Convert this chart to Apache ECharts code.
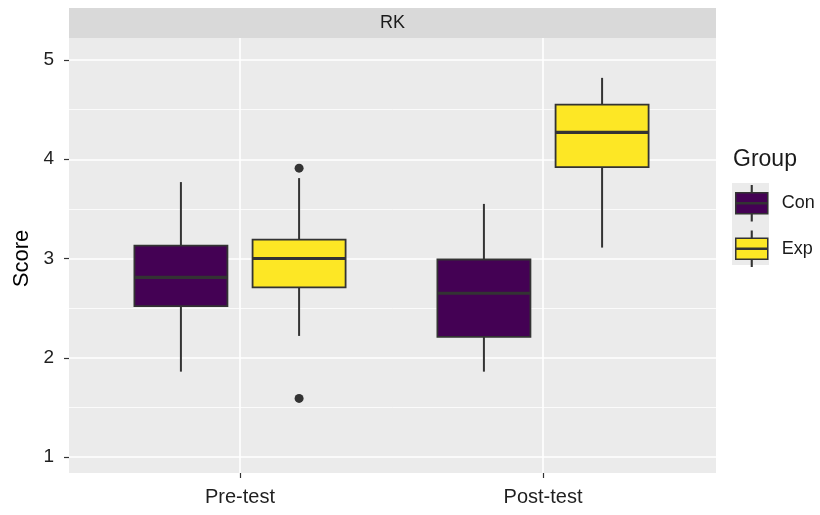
<!DOCTYPE html>
<html>
<head>
<meta charset="utf-8">
<script src="https://cdn.jsdelivr.net/npm/echarts@6/dist/echarts.min.js"></script>
<style>
html,body{margin:0;padding:0;background:#fff;}
#chart{width:820px;height:515px;}
</style>
</head>
<body>
<div id="chart"></div>
<script>
// ---- data ----
var categories = ['Pre-test', 'Post-test'];
var groups = ['Con', 'Exp'];
var groupColors = ['#440154', '#FDE725'];
// [min, Q1, median, Q3, max] per category
var conBoxes = [
  [1.86, 2.52, 2.81, 3.13, 3.77],
  [1.86, 2.21, 2.65, 2.99, 3.55]
];
var expBoxes = [
  [2.22, 2.71, 3.00, 3.19, 3.81],
  [3.11, 3.92, 4.27, 4.55, 4.82]
];
// [category, value]
var conOutliers = [];
var expOutliers = [
  ['Pre-test', 3.91],
  ['Pre-test', 1.59]
];
var yTicks = [1, 2, 3, 4, 5];
var facetLabel = 'RK';
var yTitle = 'Score';
var legendTitle = 'Group';

// ---- layout ----
var FONT = 'Liberation Sans, Arial, sans-serif';
var W = 820, H = 515;
var panel = {left: 69, right: 716, top: 38, bottom: 473};
var yTop = 60, yBottom = 457;       // pixel rows of y = 5 and y = 1
var catCenters = [240, 543];        // pixel centres of the categories
var band = catCenters[1] - catCenters[0];
var BOX_FRAC = 0.307;               // box width, fraction of a category band
var DODGE_FRAC = 0.195;             // group offset, fraction of a category band
var INK = '#333333';

var legendIcon = 'path://M0,7L32,7L32,16.9L0,16.9Z M0,18.1L32,18.1L32,28L0,28Z M15.7,0L16.3,0L16.3,7L15.7,7Z M15.7,28L16.3,28L16.3,35L15.7,35Z';

function boxRows(rows) {
  return rows.map(function (r, i) { return [i].concat(r); });
}
function outlierRows(rows) {
  return rows.map(function (r) { return [categories.indexOf(r[0]), r[1]]; });
}

function boxRenderer(offsetFrac, color) {
  return function (params, api) {
    var cat = api.value(0);
    var bw = api.size([1, 0])[0];
    var cx = api.coord([cat, 0])[0] + offsetFrac * bw;
    var half = BOX_FRAC * bw / 2;
    var yMin = api.coord([cat, api.value(1)])[1];
    var yQ1 = api.coord([cat, api.value(2)])[1];
    var yMed = api.coord([cat, api.value(3)])[1];
    var yQ3 = api.coord([cat, api.value(4)])[1];
    var yMax = api.coord([cat, api.value(5)])[1];
    return {
      type: 'group',
      children: [
        {type: 'line', shape: {x1: cx, y1: yMax, x2: cx, y2: yQ3}, style: {stroke: INK, lineWidth: 2}},
        {type: 'line', shape: {x1: cx, y1: yQ1, x2: cx, y2: yMin}, style: {stroke: INK, lineWidth: 2}},
        {type: 'rect', shape: {x: cx - half, y: yQ3, width: 2 * half, height: yQ1 - yQ3},
         style: {fill: color, stroke: INK, lineWidth: 1.8}},
        {type: 'line', shape: {x1: cx - half, y1: yMed, x2: cx + half, y2: yMed}, style: {stroke: INK, lineWidth: 3.2}}
      ]
    };
  };
}
function outlierRenderer(offsetFrac) {
  return function (params, api) {
    var cat = api.value(0);
    var bw = api.size([1, 0])[0];
    var p = api.coord([cat, api.value(1)]);
    return {type: 'circle', shape: {cx: p[0] + offsetFrac * bw, cy: p[1], r: 4.5}, style: {fill: INK}};
  };
}

var chart = echarts.init(document.getElementById('chart'), null, {renderer: 'canvas'});
var option = {
  animation: false,
  backgroundColor: '#ffffff',
  textStyle: {fontFamily: FONT},
  grid: [
    // 0: panel background
    {left: panel.left, right: W - panel.right, top: panel.top, bottom: H - panel.bottom,
     show: true, backgroundColor: '#EBEBEB', borderWidth: 0},
    // 1: horizontal grid lines + y labels
    {left: panel.left, right: W - panel.right, top: yTop, bottom: H - yBottom},
    // 2: vertical grid lines + x labels
    {left: catCenters[0], right: W - catCenters[1], top: panel.top, bottom: H - panel.bottom},
    // 3: boxes
    {left: catCenters[0] - band / 2, right: W - (catCenters[1] + band / 2), top: yTop, bottom: H - yBottom}
  ],
  xAxis: [
    {gridIndex: 0, type: 'value', show: false},
    {gridIndex: 1, type: 'value', show: false},
    {gridIndex: 2, type: 'category', data: categories, boundaryGap: false,
     axisLine: {show: false},
     axisTick: {show: true, length: 5, lineStyle: {color: INK, width: 1.2}},
     axisLabel: {fontSize: 20, color: '#1F1F1F', margin: 14, fontFamily: FONT},
     splitLine: {show: true, lineStyle: {color: '#ffffff', width: 1.6}}},
    {gridIndex: 3, type: 'category', data: categories, show: false}
  ],
  yAxis: [
    {gridIndex: 0, type: 'value', show: false},
    {gridIndex: 1, type: 'value', min: yTicks[0], max: yTicks[yTicks.length - 1], interval: 1,
     name: yTitle, nameLocation: 'middle', nameGap: 33,
     nameTextStyle: {fontSize: 22, color: '#000000', fontFamily: FONT},
     axisLine: {show: false},
     axisTick: {show: true, length: 5, lineStyle: {color: INK, width: 1.2}},
     axisLabel: {fontSize: 19, color: '#1F1F1F', margin: 15, fontFamily: FONT},
     splitLine: {show: true, lineStyle: {color: '#ffffff', width: 1.6}},
     minorTick: {show: false, splitNumber: 2},
     minorSplitLine: {show: true, lineStyle: {color: '#ffffff', width: 0.8}}},
    {gridIndex: 2, type: 'value', show: false},
    {gridIndex: 3, type: 'value', min: yTicks[0], max: yTicks[yTicks.length - 1], show: false}
  ],
  legend: {
    orient: 'vertical',
    left: 735, top: 185,
    padding: 0,
    itemWidth: 32, itemHeight: 35, itemGap: 9,
    data: groups.map(function (g, i) {
      return {name: g, icon: legendIcon,
              itemStyle: {color: groupColors[i], borderColor: INK, borderWidth: 1.5}};
    }),
    textStyle: {fontSize: 18, color: '#1A1A1A', fontFamily: FONT, padding: [0, 0, 0, 9]}
  },
  graphic: [
    {type: 'rect', z: 0, shape: {x: panel.left, y: 8, width: panel.right - panel.left, height: panel.top - 8},
     style: {fill: '#D9D9D9'}, silent: true},
    {type: 'text', z: 1, x: (panel.left + panel.right) / 2, y: 23,
     style: {text: facetLabel, fontSize: 18, fill: '#1A1A1A', fontFamily: FONT, textAlign: 'center', textVerticalAlign: 'middle'}},
    {type: 'text', z: 1, x: 733, y: 160,
     style: {text: legendTitle, fontSize: 23, fill: '#1A1A1A', fontFamily: FONT, textAlign: 'left', textVerticalAlign: 'middle'}},
    {type: 'rect', z: 0, shape: {x: 732, y: 183, width: 37, height: 82},
     style: {fill: '#EBEBEB'}, silent: true}
  ],
  series: [
    {name: groups[0], type: 'custom', xAxisIndex: 3, yAxisIndex: 3,
     data: boxRows(conBoxes), encode: {x: 0, y: [1, 2, 3, 4, 5]},
     itemStyle: {color: groupColors[0]},
     renderItem: boxRenderer(-DODGE_FRAC, groupColors[0])},
    {name: groups[1], type: 'custom', xAxisIndex: 3, yAxisIndex: 3,
     data: boxRows(expBoxes), encode: {x: 0, y: [1, 2, 3, 4, 5]},
     itemStyle: {color: groupColors[1]},
     renderItem: boxRenderer(DODGE_FRAC, groupColors[1])},
    {name: 'Con outliers', type: 'custom', xAxisIndex: 3, yAxisIndex: 3,
     data: outlierRows(conOutliers), encode: {x: 0, y: 1},
     renderItem: outlierRenderer(-DODGE_FRAC)},
    {name: 'Exp outliers', type: 'custom', xAxisIndex: 3, yAxisIndex: 3,
     data: outlierRows(expOutliers), encode: {x: 0, y: 1},
     renderItem: outlierRenderer(DODGE_FRAC)}
  ]
};
chart.setOption(option);
</script>
</body>
</html>
